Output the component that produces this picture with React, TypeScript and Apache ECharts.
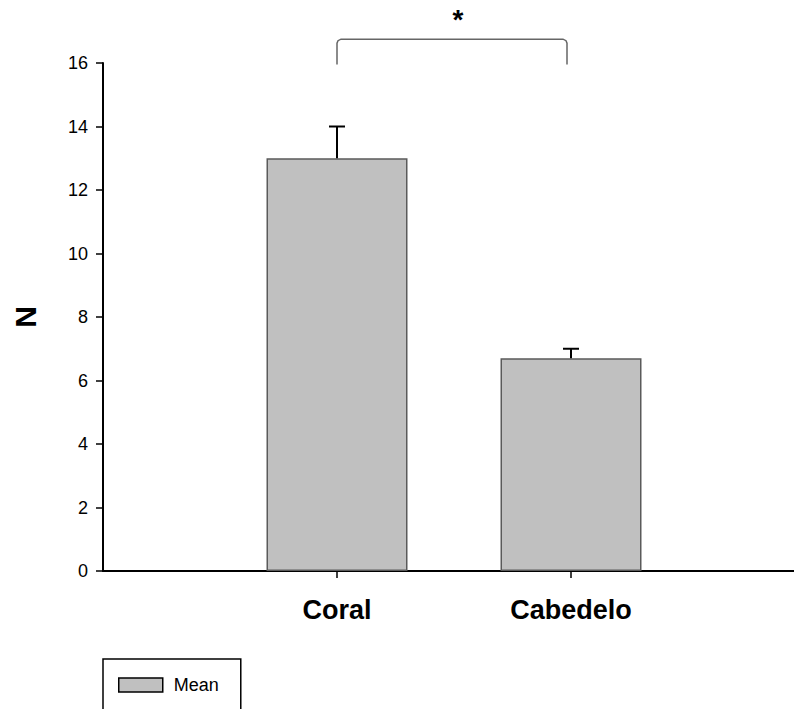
import React, { useEffect, useRef } from "react";
import * as echarts from "echarts";

const categories = ["Coral", "Cabedelo"];
const means = [13, 6.7];
const sems = [1.0, 0.3];
const yTicks = { min: 0, max: 16, interval: 2 };
const sigPair = [0, 1];
const sigLabel = "*";
const sigBracket = { legBottom: 15.95, top: 16.75 };
const seriesName = "Mean";
const yName = "N";

export default function App() {
  const ref = useRef<HTMLDivElement>(null);
  useEffect(() => {
    if (!ref.current) return;
    const chart = echarts.init(ref.current, undefined, { renderer: "svg" });
    const axisData = ["", ...categories, " "];
    const barData = ["-", ...means, "-"];
    const errData = means.map((m, i) => [i + 1, m, sems[i]]);
    const sigData = [[sigPair[0] + 1, sigPair[1] + 1, sigBracket.legBottom, sigBracket.top]];
    const font = "'Liberation Sans', Arial, sans-serif";
    chart.setOption({
      animation: false,
      backgroundColor: "#fff",
      textStyle: { fontFamily: font },
      grid: { left: 103, top: 63, width: 702, bottom: 138, containLabel: false, outerBoundsMode: "none" },
      legend: {
        left: 103,
        top: 659,
        padding: [17, 22, 30, 15],
        borderColor: "#000",
        borderWidth: 1.5,
        itemWidth: 44,
        itemHeight: 14,
        icon: "rect",
        data: [{ name: seriesName, itemStyle: { color: "#c0c0c0", borderColor: "#000", borderWidth: 1.5 } }],
        textStyle: { fontSize: 18, color: "#000", fontFamily: font, padding: [0, 0, 0, 6] },
      },
      xAxis: {
        type: "category",
        data: axisData,
        boundaryGap: false,
        axisLine: { lineStyle: { color: "#000", width: 2 } },
        axisTick: {
          show: true,
          length: 7,
          lineStyle: { color: "#000", width: 1.5 },
          interval: (i: number) => i >= 1 && i <= categories.length,
        },
        axisLabel: {
          interval: 0,
          fontSize: 27,
          fontWeight: "bold",
          color: "#000",
          margin: 25,
          fontFamily: font,
        },
        splitLine: { show: false },
      },
      yAxis: {
        type: "value",
        min: yTicks.min,
        max: yTicks.max,
        interval: yTicks.interval,
        name: yName,
        nameLocation: "middle",
        nameRotate: 90,
        nameGap: 63,
        nameTextStyle: { fontSize: 30, fontWeight: "bold", color: "#000", fontFamily: font },
        axisLine: { show: true, lineStyle: { color: "#000", width: 2 } },
        axisTick: { show: true, length: 7, lineStyle: { color: "#000", width: 1.5 } },
        axisLabel: { fontSize: 18, color: "#000", margin: 15, fontFamily: font },
        splitLine: { show: false },
      },
      series: [
        {
          name: seriesName,
          type: "bar",
          data: barData,
          barWidth: 141,
          itemStyle: { color: "#c0c0c0", borderColor: "#5a5a5a", borderWidth: 1.5 },
          z: 2,
        },
        {
          type: "custom",
          name: "err",
          data: errData,
          clip: false,
          z: 3,
          renderItem: (params: any, api: any) => {
            const x = api.value(0);
            const m = api.value(1);
            const e = api.value(2);
            const base = api.coord([x, m]);
            const top = api.coord([x, m + e]);
            return {
              type: "group",
              children: [
                { type: "line", shape: { x1: base[0], y1: base[1], x2: top[0], y2: top[1] }, style: { stroke: "#000", lineWidth: 2 } },
                { type: "line", shape: { x1: top[0] - 8, y1: top[1], x2: top[0] + 8, y2: top[1] }, style: { stroke: "#000", lineWidth: 2 } },
              ],
            };
          },
        },
        {
          type: "custom",
          name: "sig",
          data: sigData,
          clip: false,
          z: 3,
          renderItem: (params: any, api: any) => {
            const a = api.coord([api.value(0), api.value(2)]);
            const b = api.coord([api.value(1), api.value(2)]);
            const t = api.coord([api.value(0), api.value(3)]);
            const xl = a[0];
            const xr = b[0] - 4;
            const y0 = a[1];
            const y1 = t[1];
            const r = 4;
            return {
              type: "group",
              children: [
                {
                  type: "polyline",
                  shape: {
                    points: [
                      [xl, y0], [xl, y1 + r], [xl + 1, y1 + 1.5], [xl + r, y1],
                      [xr - r, y1], [xr - 1, y1 + 1.5], [xr, y1 + r], [xr, y0],
                    ],
                  },
                  style: { stroke: "#666", lineWidth: 1.5, fill: "none" },
                },
                {
                  type: "text",
                  style: {
                    x: (xl + xr) / 2 + 6,
                    y: y1 - 20,
                    text: sigLabel,
                    fontSize: 28,
                    fontWeight: "bold",
                    fill: "#000",
                    align: "center",
                    verticalAlign: "middle",
                    fontFamily: font,
                  },
                },
              ],
            };
          },
        },
      ],
    });
    return () => chart.dispose();
  }, []);
  return (
    <div
      ref={ref}
      style={{ position: "absolute", left: 0, top: 0, width: 794, height: 709, overflow: "hidden" }}
    />
  );
}
